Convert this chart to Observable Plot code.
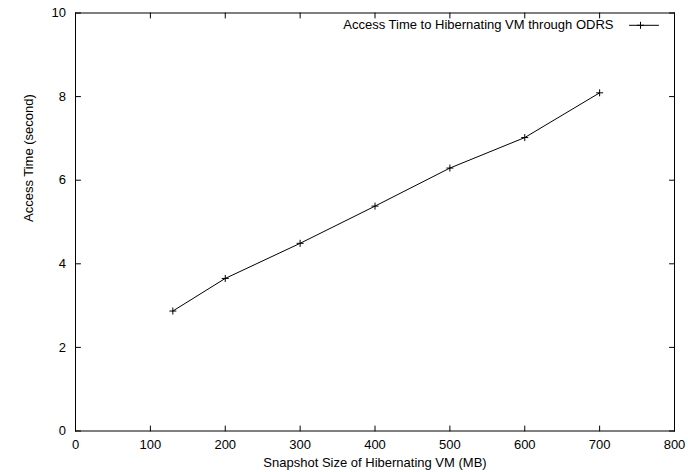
<!DOCTYPE html>
<html>
<head>
<meta charset="utf-8">
<script src="https://cdn.jsdelivr.net/npm/d3@7"></script>
<script src="https://cdn.jsdelivr.net/npm/@observablehq/plot@0.6"></script>
<style>
  html, body { margin: 0; padding: 0; background: #fff; }
</style>
</head>
<body>
<div id="chart"></div>
<script>
const snapshotSizes = [130, 200, 300, 400, 500, 600, 700];
const accessTimes = [2.87, 3.65, 4.49, 5.38, 6.29, 7.02, 8.09];
const xTicks = [0, 100, 200, 300, 400, 500, 600, 700, 800];
const yTicks = [0, 2, 4, 6, 8, 10];
const seriesName = "Access Time to Hibernating VM through ODRS";
const xLabel = "Snapshot Size of Hibernating VM (MB)";
const yLabel = "Access Time (second)";

const data = snapshotSizes.map((x, i) => ({x, y: accessTimes[i]}));

const tickShape = {draw(context, l) { context.moveTo(0, 0); context.lineTo(0, -l); }};
const plusSymbol = {draw(context, size) {
  const r = Math.sqrt(size / Math.PI);
  context.moveTo(-r, 0); context.lineTo(r, 0);
  context.moveTo(0, -r); context.lineTo(0, r);
}};

const FS = 13;
const tickOpts = {length: 5, anchor: "start", shape: tickShape, stroke: "black", strokeWidth: 1};

const chart = Plot.plot({
  width: 688,
  height: 472,
  marginLeft: 75,
  marginRight: 14,
  marginTop: 12.5,
  marginBottom: 41.5,
  style: {fontFamily: "Arial, Helvetica, sans-serif", fontSize: FS + "px", background: "#fff", color: "black"},
  x: {domain: [0, 800]},
  y: {domain: [0, 10]},
  marks: [
    Plot.axisX(xTicks, {tickSize: 0, tickPadding: 8.5, label: null, fontSize: FS}),
    Plot.axisY(yTicks, {tickSize: 0, tickPadding: 9.5, label: null, fontSize: FS}),
    Plot.vector(xTicks, {x: d => d, y: 0, rotate: 0, ...tickOpts}),
    Plot.vector(xTicks, {x: d => d, y: 10, rotate: 180, ...tickOpts}),
    Plot.vector(yTicks, {x: 0, y: d => d, rotate: 90, ...tickOpts}),
    Plot.vector(yTicks, {x: 800, y: d => d, rotate: -90, ...tickOpts}),
    Plot.frame({stroke: "black", strokeWidth: 1}),
    Plot.line(data, {x: "x", y: "y", stroke: "black", strokeWidth: 1}),
    Plot.dot(data, {x: "x", y: "y", symbol: plusSymbol, r: 3.5, fill: "none", stroke: "black", strokeWidth: 1}),
    Plot.text([seriesName], {frameAnchor: "top-right", dx: -61, dy: 12.3, textAnchor: "end", lineAnchor: "middle", fontSize: FS, fill: "black"}),
    Plot.vector([seriesName], {frameAnchor: "top-right", dx: -45, dy: 12.3, rotate: 90, length: 29, anchor: "start", shape: tickShape, stroke: "black", strokeWidth: 1}),
    Plot.dot([seriesName], {frameAnchor: "top-right", dx: -34, dy: 12.3, symbol: plusSymbol, r: 3.5, fill: "none", stroke: "black", strokeWidth: 1}),
    Plot.text([xLabel], {frameAnchor: "bottom", dy: 32, lineAnchor: "middle", fontSize: FS, fill: "black"}),
    Plot.text([yLabel], {frameAnchor: "left", dx: -47, rotate: -90, lineAnchor: "middle", fontSize: FS, fill: "black"})
  ]
});
document.getElementById("chart").appendChild(chart);
</script>
</body>
</html>
